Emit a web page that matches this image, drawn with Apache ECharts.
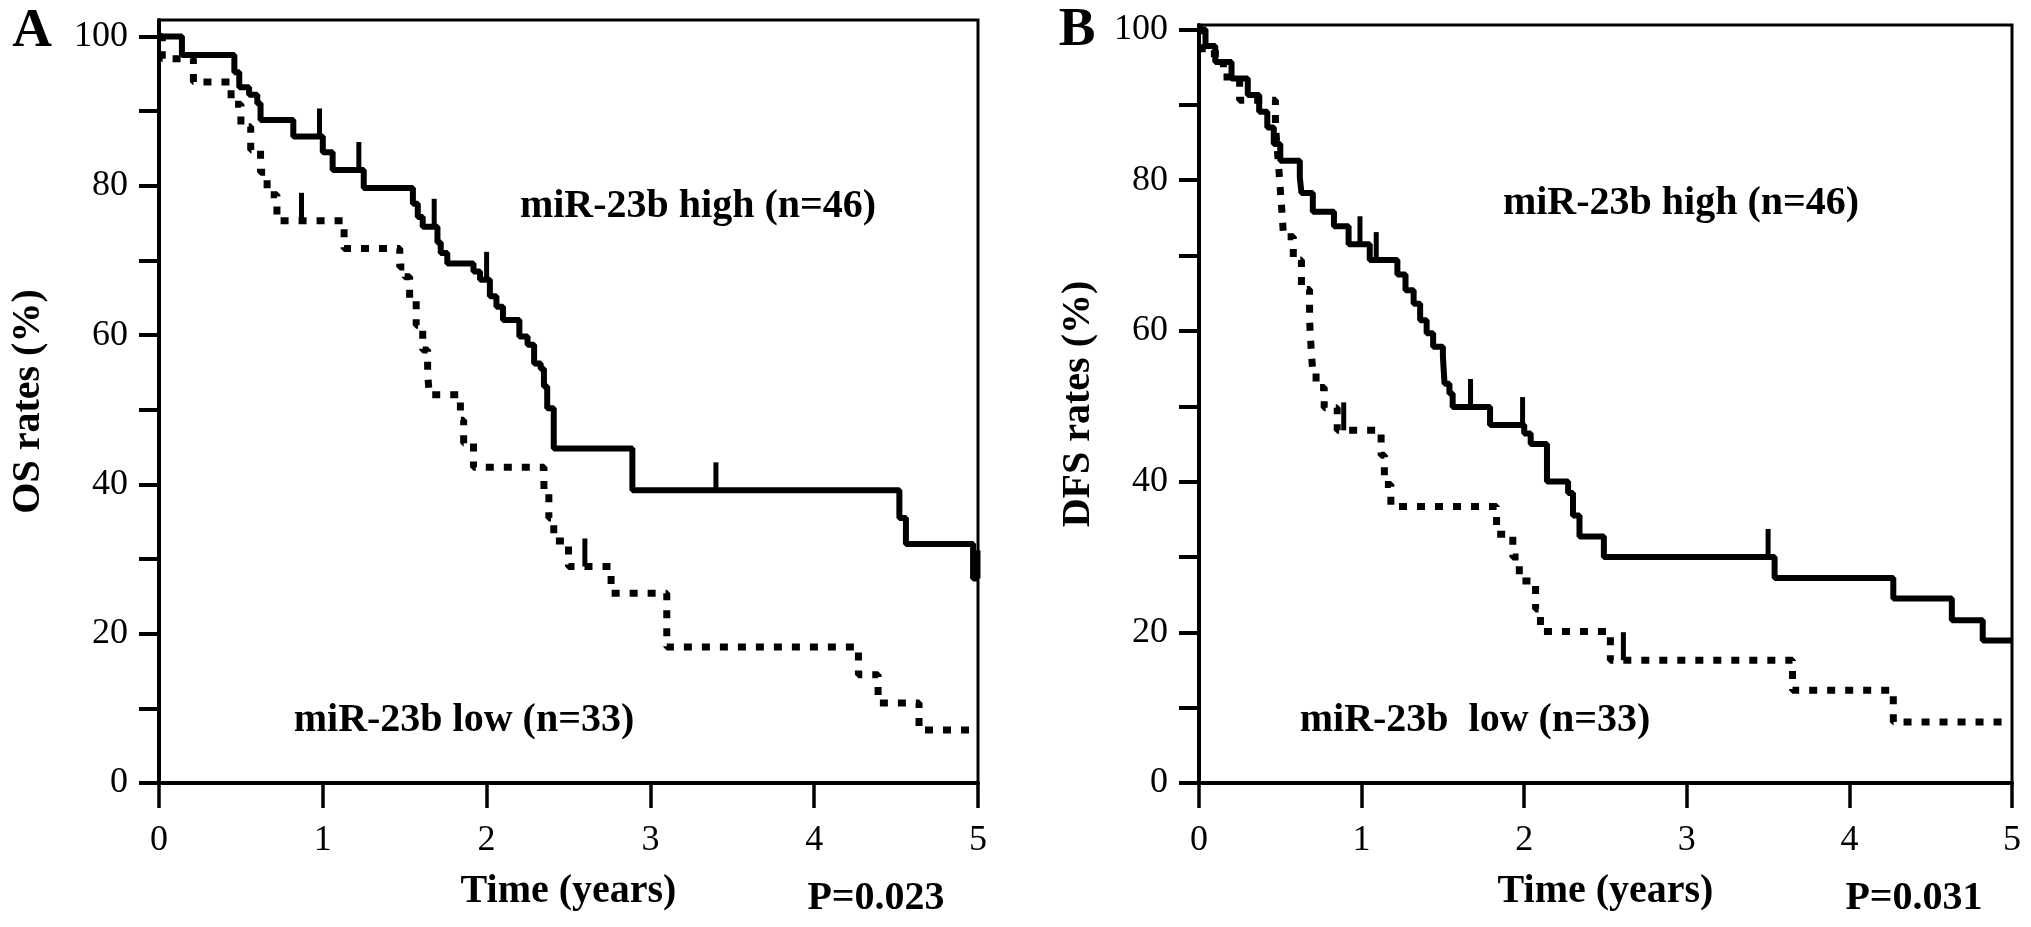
<!DOCTYPE html>
<html>
<head>
<meta charset="utf-8">
<script src="https://cdn.jsdelivr.net/npm/echarts@6/dist/echarts.min.js"></script>
<style>
html,body{margin:0;padding:0;background:#fff;}
#c{width:2031px;height:927px;}
</style>
</head>
<body>
<div id="c"></div>
<script>
// ---- tick values ----
const xTickValues = [0, 1, 2, 3, 4, 5];
const yTickValues = [0, 10, 20, 30, 40, 50, 60, 70, 80, 90, 100];
const yLabelValues = [0, 20, 40, 60, 80, 100];

// ---- Panel A: OS, miR-23b high (n=46) ----
const aHighTime = [0, 0.14, 0.46, 0.49, 0.55, 0.60, 0.62, 0.82, 1.00, 1.06, 1.25, 1.55, 1.58, 1.61, 1.70, 1.72, 1.76, 1.92, 1.96, 2.02, 2.06, 2.10, 2.20, 2.25, 2.29, 2.33, 2.35, 2.37, 2.41, 2.89, 4.52, 4.56, 4.97, 5.00];
const aHighRate = [100, 97.5, 95.2, 93.2, 92.2, 91.0, 88.8, 86.6, 84.5, 82.1, 79.7, 77.6, 75.8, 74.5, 72.4, 71.0, 69.6, 68.5, 67.4, 65.2, 63.8, 62.0, 59.8, 58.7, 56.2, 55.5, 53.1, 50.2, 44.8, 39.2, 35.5, 32.0, 27.4, 27.4];
const aHighCensorTime = [0.98, 1.22, 1.68, 2.00, 3.40, 5.00];
const aHighCensorRate = [86.6, 82.1, 74.5, 67.4, 39.2, 27.4];

// ---- Panel A: OS, miR-23b low (n=33) ----
const aLowTime = [0, 0.02, 0.21, 0.44, 0.50, 0.56, 0.62, 0.66, 0.72, 1.13, 1.47, 1.50, 1.53, 1.57, 1.61, 1.64, 1.65, 1.84, 1.86, 1.92, 2.35, 2.38, 2.41, 2.50, 2.76, 3.10, 4.27, 4.39, 4.64, 4.95];
const aLowRate = [100, 97.0, 93.9, 90.9, 87.9, 84.8, 81.8, 78.8, 75.3, 71.6, 69.1, 67.8, 64.7, 61.3, 58.0, 54.9, 52.0, 48.6, 45.5, 42.3, 38.8, 35.5, 32.4, 29.0, 25.4, 18.2, 14.5, 10.7, 7.1, 7.1];
const aLowCensorTime = [0.87, 2.60];
const aLowCensorRate = [75.3, 29.0];

// ---- Panel B: DFS, miR-23b high (n=46) ----
const bHighTime = [0, 0.04, 0.10, 0.20, 0.30, 0.37, 0.42, 0.46, 0.50, 0.62, 0.63, 0.70, 0.83, 0.92, 1.05, 1.22, 1.27, 1.32, 1.36, 1.40, 1.44, 1.50, 1.51, 1.54, 1.56, 1.79, 2.00, 2.04, 2.14, 2.27, 2.30, 2.34, 2.49, 3.54, 4.27, 4.63, 4.82, 5.00];
const bHighRate = [100, 97.8, 95.7, 93.5, 91.3, 89.1, 87.0, 84.8, 82.6, 80.4, 78.3, 75.8, 73.9, 71.5, 69.4, 67.5, 65.4, 63.6, 61.4, 59.7, 57.9, 56.6, 53.0, 51.7, 49.9, 47.5, 46.4, 45.0, 40.0, 38.5, 35.5, 32.7, 30.0, 27.2, 24.5, 21.6, 18.9, 18.9];
const bHighCensorTime = [0.99, 1.09, 1.67, 1.99, 3.50];
const bHighCensorRate = [71.5, 69.4, 49.9, 47.5, 30.0];

// ---- Panel B: DFS, miR-23b low (n=33) ----
const bLowTime = [0, 0.02, 0.15, 0.25, 0.47, 0.48, 0.49, 0.50, 0.51, 0.52, 0.58, 0.63, 0.68, 0.69, 0.70, 0.72, 0.77, 0.85, 1.12, 1.14, 1.18, 1.83, 1.93, 1.97, 2.07, 2.10, 2.53, 3.65, 4.27, 4.98];
const bLowRate = [100, 96.8, 93.7, 90.6, 87.3, 84.5, 81.8, 78.8, 75.8, 72.5, 69.4, 65.5, 61.4, 57.5, 54.4, 52.5, 49.8, 46.8, 43.5, 39.6, 36.7, 33.0, 30.0, 26.8, 23.1, 20.1, 16.3, 12.3, 8.1, 8.1];
const bLowCensorTime = [0.89, 2.61];
const bLowCensorRate = [46.8, 16.3];

// ---- texts ----
const panelLabels = ['A', 'B'];
const yTitles = ['OS rates (%)', 'DFS rates (%)'];
const xTitle = 'Time (years)';
const highLabels = ['miR-23b high (n=46)', 'miR-23b high (n=46)'];
const lowLabels = ['miR-23b low (n=33)', 'miR-23b  low (n=33)'];
const pValues = ['P=0.023', 'P=0.031'];

const FONT = "'Liberation Serif','Times New Roman',serif";
const pairs = (t, r) => t.map((x, i) => [x, r[i]]);

function xAxisCfg(gi) {
  return {
    gridIndex: gi, type: 'value', min: 0, max: 5, interval: 1,
    name: xTitle, nameLocation: 'middle', nameGap: 89,
    nameTextStyle: {fontFamily: FONT, fontWeight: 'bold', fontSize: 40, color: '#000'},
    axisLine: {show: true, onZero: false, lineStyle: {color: '#000', width: 4}},
    axisTick: {show: true, inside: false, length: 25, customValues: xTickValues, lineStyle: {color: '#000', width: 3.5}},
    axisLabel: {show: true, margin: 40, fontFamily: FONT, fontSize: 36, color: '#000', customValues: xTickValues},
    splitLine: {show: false}
  };
}
function yAxisCfg(gi, max, gap) {
  return {
    gridIndex: gi, type: 'value', min: 0, max: max,
    name: yTitles[gi], nameLocation: 'middle', nameGap: gap, nameRotate: 90,
    nameTextStyle: {fontFamily: FONT, fontWeight: 'bold', fontSize: 40, color: '#000'},
    axisLine: {show: true, onZero: false, lineStyle: {color: '#000', width: 4}},
    axisTick: {show: true, inside: false, length: 20, customValues: yTickValues, lineStyle: {color: '#000', width: 4}},
    axisLabel: {show: true, margin: 31, fontFamily: FONT, fontSize: 36, color: '#000', customValues: yLabelValues, padding: [0, 0, 10, 0]},
    splitLine: {show: false}
  };
}
function curve(gi, t, r, dotted) {
  return {
    type: 'line', xAxisIndex: gi, yAxisIndex: gi, data: pairs(t, r),
    step: 'end', symbol: 'none', silent: true, animation: false,
    lineStyle: dotted ? {color: '#000', width: 7, type: [8, 10], cap: 'butt', opacity: 1} : {color: '#000', width: 6, cap: 'butt', opacity: 1},
    z: 3
  };
}
function censor(gi, t, r) {
  return {
    type: 'scatter', xAxisIndex: gi, yAxisIndex: gi, data: pairs(t, r),
    symbol: 'rect', symbolSize: [5, 28], symbolOffset: [0, -14],
    itemStyle: {color: '#000', opacity: 1, borderWidth: 0}, silent: true, animation: false, z: 4
  };
}
function txt(x, y, text, size, weight, align) {
  return {type: 'text', x: x, y: y, silent: true, z: 10,
    style: {text: text, fill: '#000', font: weight + ' ' + size + 'px ' + FONT, align: align || 'center', verticalAlign: 'middle'}};
}

const chart = echarts.init(document.getElementById('c'), null, {renderer: 'canvas'});
chart.setOption({
  backgroundColor: '#fff',
  animation: false,
  grid: [
    {left: 159, top: 20, width: 819, height: 763, show: true, borderColor: '#000', borderWidth: 3, backgroundColor: 'transparent'},
    {left: 1199, top: 25, width: 813, height: 758, show: true, borderColor: '#000', borderWidth: 3, backgroundColor: 'transparent'}
  ],
  xAxis: [xAxisCfg(0), xAxisCfg(1)],
  yAxis: [yAxisCfg(0, 102.2, 110), yAxisCfg(1, 100.6, 100)],
  series: [
    curve(0, aLowTime, aLowRate, true),
    curve(0, aHighTime, aHighRate, false),
    censor(0, aHighCensorTime, aHighCensorRate),
    censor(0, aLowCensorTime, aLowCensorRate),
    curve(1, bLowTime, bLowRate, true),
    curve(1, bHighTime, bHighRate, false),
    censor(1, bHighCensorTime, bHighCensorRate),
    censor(1, bLowCensorTime, bLowCensorRate)
  ],
  graphic: [
    txt(32, 32, panelLabels[0], 55, 'bold'),
    txt(1077, 31, panelLabels[1], 55, 'bold'),
    txt(698, 207, highLabels[0], 40, 'bold'),
    txt(1681, 204, highLabels[1], 40, 'bold'),
    txt(464, 721, lowLabels[0], 40, 'bold'),
    txt(1475, 721, lowLabels[1], 40, 'bold'),
    txt(876, 899, pValues[0], 40, 'bold'),
    txt(1914, 899, pValues[1], 40, 'bold')
  ]
});
</script>
</body>
</html>
